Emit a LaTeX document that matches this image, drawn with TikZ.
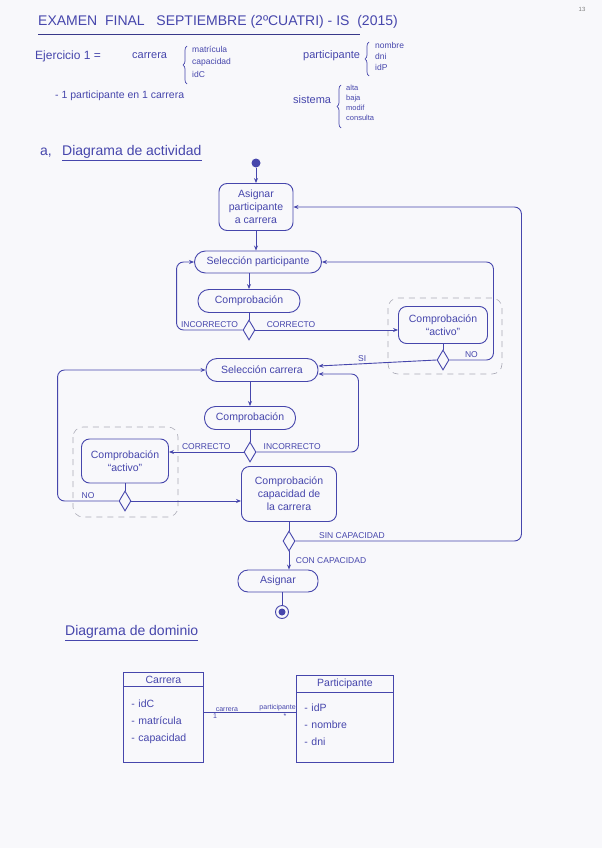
\documentclass[tikz,border=0pt]{standalone}
\usepackage{fontspec}
\setmainfont{Liberation Sans}
\usetikzlibrary{positioning, arrows.meta, shapes.geometric, shapes.multipart, decorations.pathreplacing, calc}

\definecolor{ink}{RGB}{70,70,172}
\definecolor{paper}{RGB}{248,248,251}
\definecolor{pencil}{RGB}{170,170,182}

\begin{document}
\begin{tikzpicture}[
        x=1pt, y=-1pt,
        every node/.style={text=ink},
        act/.style={draw=ink, rectangle, rounded corners=8pt, align=center, line width=0.9pt, inner sep=2pt, font=\fontsize{10.5}{13}\selectfont},
        pill/.style={act, rounded corners=11pt, minimum height=23pt},
        choice/.style={draw=ink, diamond, minimum width=12pt, minimum height=20pt, inner sep=0pt, line width=0.9pt},
        start/.style={circle, fill=ink, minimum size=9pt, inner sep=0pt},
        arrow/.style={-{Stealth[length=5pt, width=4pt]}, draw=ink, line width=0.9pt, rounded corners=7pt},
        link/.style={draw=ink, line width=0.9pt},
        guard/.style={font=\fontsize{8.5}{10}\selectfont, inner sep=1.5pt},
        frame/.style={draw=pencil, dash pattern=on 6pt off 5pt, rounded corners=10pt, line width=0.6pt},
        hand/.style={font=\fontsize{11}{13}\selectfont, anchor=base west, inner sep=0pt},
        list/.style={font=\fontsize{8.5}{12.5}\selectfont, align=left, anchor=north west, inner sep=0pt},
        curly/.style={decorate, decoration={brace, amplitude=4pt}, draw=ink, line width=0.7pt},
        cls/.style={draw=ink, rectangle split, rectangle split parts=2, line width=0.9pt, font=\fontsize{10.5}{17}\selectfont, anchor=north west, inner xsep=8pt, inner ysep=3pt},
        role/.style={font=\fontsize{7}{8}\selectfont, inner sep=1pt}
    ]
    \useasboundingbox (0,0) rectangle (602,848);
    \fill[paper] (0,0) rectangle (602,848);

    % --- Header ---
    \node[font=\fontsize{6}{7}\selectfont, text=gray] (pagenum) at (582,9) {13};
    \node[hand, font=\fontsize{14}{16}\selectfont] (title) at (38,26) {EXAMEN\ \ FINAL\ \ \ SEPTIEMBRE (2ºCUATRI) - IS\ \ (2015)};
    \draw[ink!80!black, line width=1pt] ([yshift=-9pt]title.base west) -- ++(322,0);

    \node[hand, font=\fontsize{12}{14}\selectfont] (ej) at (35,60) {Ejercicio 1 =};
    \node[hand] (ejCarrera) at (132,59) {carrera};
    \draw[curly] (187,84) -- (187,46);
    \node[list] (ejCarreraList) at (192,46) {matrícula\\capacidad\\idC};
    \node[hand] (ejPart) at (303,59) {participante};
    \draw[curly] (369,76) -- (369,42);
    \node[list, font=\fontsize{8.5}{11}\selectfont] (ejPartList) at (375,42) {nombre\\dni\\idP};
    \node[hand, font=\fontsize{10.5}{12}\selectfont] (ejRule) at (55,99) {- 1 participante en 1 carrera};
    \node[hand] (ejSist) at (293,104) {sistema};
    \draw[curly] (341,128) -- (341,85);
    \node[list, font=\fontsize{7.5}{10}\selectfont] (ejSistList) at (346,85) {alta\\baja\\modif\\consulta};

    % --- a) Activity diagram ---
    \node[hand, font=\fontsize{14}{16}\selectfont] (secA) at (40,155) {a,};
    \node[hand, font=\fontsize{14}{16}\selectfont] (secAT) at (62,155) {Diagrama de actividad};
    \draw[link, line width=0.7pt] ([yshift=-5pt]secAT.base west) -- ([yshift=-5pt]secAT.base east);

    \node[start] (ini) at (256,163) {};
    \node[act, minimum width=74pt, minimum height=47pt] (asig) at (256,207) {Asignar\\participante\\a carrera};
    \node[pill, minimum width=127pt, minimum height=22pt] (selp) at (258,262) {Selección participante};
    \node[pill, minimum width=102pt] (comp1) at (249,301) {Comprobación};
    \node[choice] (dec1) at (249,330) {};
    \node[act, minimum width=89pt, minimum height=37pt] (act1) at (443,325) {Comprobación\\“activo”};
    \node[choice] (dec2) at (443,360) {};
    \node[pill, minimum width=112pt] (selc) at (262,370) {Selección carrera};
    \node[pill, minimum width=91pt] (comp2) at (250,418) {Comprobación};
    \node[choice] (dec3) at (250,452) {};
    \node[act, minimum width=87pt, minimum height=44pt] (act2) at (125,461) {Comprobación\\“activo”};
    \node[choice] (dec4) at (125,501) {};
    \node[act, minimum width=95pt, minimum height=55pt] (cap) at (289,494) {Comprobación\\capacidad de\\la carrera};
    \node[choice] (dec5) at (289,541) {};
    \node[pill, minimum width=80pt, minimum height=22pt, rounded corners=10pt] (asign) at (278,581) {Asignar};
    \node[circle, draw=ink, minimum size=13pt, inner sep=0pt, line width=0.9pt] (fin) at (282,612) {};
    \fill[ink] (fin) circle (3.5pt);

    \draw[frame] (388,298) rectangle (502,374);
    \draw[frame] (73,427) rectangle (178,517);

    \draw[arrow] (ini) -- (asig);
    \draw[arrow] (asig) -- (asig.south |- selp.north);
    \draw[arrow] (comp1.north |- selp.south) -- (comp1.north);
    \draw[link] (comp1) -- (dec1);
    \draw[arrow] (dec1.west) -- node[guard, above] {INCORRECTO} ++(-66,0) |- (selp.west);
    \draw[arrow] (dec1.east) -- node[guard, above, pos=0.25] {CORRECTO} (dec1.east -| act1.west);
    \draw[link] (act1) -- (dec2);
    \draw[arrow] (dec2.east) -- node[guard, above] {NO} ++(44,0) |- (selp.east);
    \draw[arrow] (dec2.west) -- node[guard, above, pos=0.63] {SI} ([yshift=4pt]selc.east);
    \draw[arrow] (comp2.north |- selc.south) -- (comp2.north);
    \draw[link] (comp2) -- (dec3);
    \draw[arrow] (dec3.west) -- node[guard, above] {CORRECTO} (dec3.west -| act2.east);
    \draw[arrow] (dec3.east) -- node[guard, above, pos=0.35] {INCORRECTO} ++(102,0) |- ([yshift=-4pt]selc.east);
    \draw[link] (act2) -- (dec4);
    \draw[arrow] (dec4.west) -- node[guard, above] {NO} ++(-61,0) |- (selc.west);
    \draw[arrow] (dec4.east) -- (dec4.east -| cap.west);
    \draw[link] (cap) -- (dec5);
    \draw[arrow] (dec5.east) -- node[guard, above, pos=0.25] {SIN CAPACIDAD} ++(226,0) |- (asig.east);
    \draw[arrow] (dec5.south) -- node[guard, right=5pt, pos=0.5] {CON CAPACIDAD} (dec5.south |- asign.north);
    \draw[link] (fin.north |- asign.south) -- (fin);

    % --- Domain diagram ---
    \node[hand, font=\fontsize{14}{16}\selectfont] (secB) at (65,635) {Diagrama de dominio};
    \draw[link, line width=0.7pt] ([yshift=-5pt]secB.base west) -- ([yshift=-5pt]secB.base east);

    \node[cls, text width=64pt] (carrera) at (123,672) {\centerline{Carrera}\nodepart{two}\rule{0pt}{17pt}- idC\\- matrícula\\- capacidad\rule[-18pt]{0pt}{0pt}};
    \node[cls, text width=81pt] (participante) at (296,675) {\centerline{Participante}\nodepart{two}\rule{0pt}{16pt}- idP\\- nombre\\- dni\rule[-13pt]{0pt}{0pt}};
    \draw[link] ([yshift=5pt]carrera.east) -- ([yshift=5pt]carrera.east -| participante.west)
        node[role, above, pos=0.25] {carrera}
        node[role, above, pos=0.8] {participante}
        node[role, below, pos=0.12] {1}
        node[role, below, pos=0.88] {*};
\end{tikzpicture}
\end{document}
